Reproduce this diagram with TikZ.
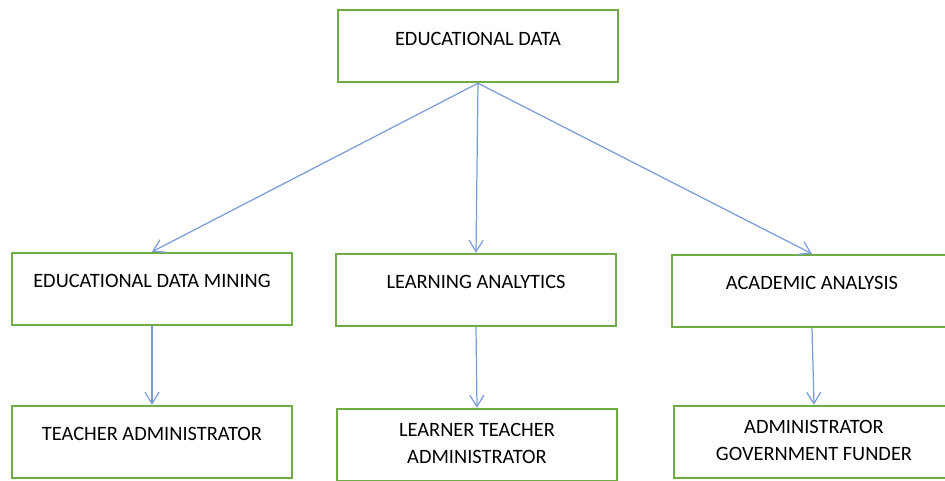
\documentclass[tikz,border=0pt]{standalone}
\usepackage{fontspec}
\setmainfont{Carlito}
\usetikzlibrary{arrows.meta,positioning}
\definecolor{boxgreen}{HTML}{70AD47}
\definecolor{linkblue}{HTML}{7A9CD8}
\begin{document}
\begin{tikzpicture}[
	box/.style={draw=boxgreen, line width=1.4pt, minimum width=5.6cm, minimum height=1.44cm, inner sep=0pt},
	txt/.style={font=\fontsize{11.6}{15.6}\selectfont, align=center, inner sep=0pt, text=black},
	link/.style={draw=linkblue, line width=.7pt, -{Straight Barb[length=6.5pt,width=8pt,line width=.7pt]}}]
	\useasboundingbox (0,0) rectangle (18.9,-9.6);
	% boxes
	\node[box] (edu) at (9.56,-0.92) {};
	\node[box] (edm) at (3.04,-5.78) {};
	\node[box] (la)  at (9.52,-5.80) {};
	\node[box] (aa)  at (16.24,-5.82) {};
	\node[box] (ta)  at (3.04,-8.84) {};
	\node[box] (lta) at (9.54,-8.90) {};
	\node[box] (agf) at (16.28,-8.84) {};
	% texts
	\node[txt] (edu-t) at ([yshift=-.60cm]edu.north) {EDUCATIONAL DATA};
	\node[txt] (edm-t) at ([yshift=-.58cm]edm.north) {EDUCATIONAL DATA MINING};
	\node[txt] (la-t)  at ([yshift=-.58cm]la.north)  {LEARNING ANALYTICS};
	\node[txt] (aa-t)  at ([yshift=-.58cm]aa.north)  {ACADEMIC ANALYSIS};
	\node[txt] (ta-t)  at ([yshift=-.58cm]ta.north)  {TEACHER ADMINISTRATOR};
	\node[txt] (lta-t) at ([yshift=-.71cm]lta.north) {LEARNER TEACHER\\ADMINISTRATOR};
	\node[txt] (agf-t) at ([yshift=-.71cm]agf.north) {ADMINISTRATOR\\GOVERNMENT FUNDER};
	% arrows
	\draw[link] (edu.south) -- (edm.north);
	\draw[link] (edu.south) -- (la.north);
	\draw[link] (edu.south) -- (aa.north);
	\draw[link] (edm.south) -- (ta.north);
	\draw[link] (la.south)  -- (lta.north);
	\draw[link] (aa.south)  -- (agf.north);
\end{tikzpicture}
\end{document}
